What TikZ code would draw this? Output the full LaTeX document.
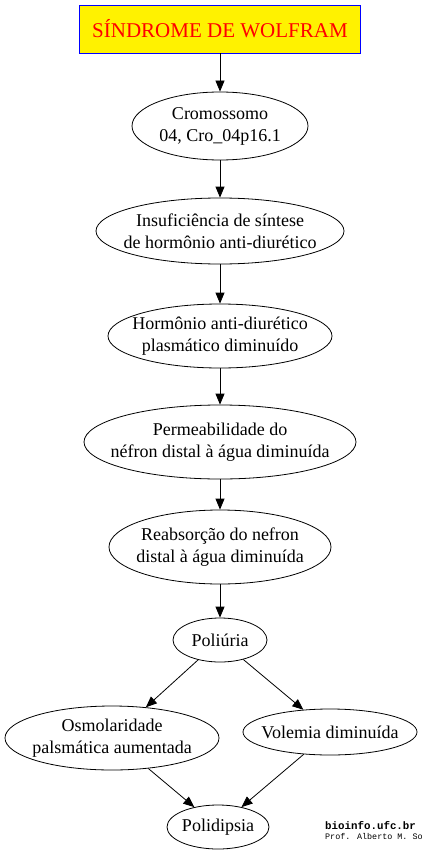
\documentclass[tikz,border=0pt]{standalone}
\usepackage{fontspec}
\setmainfont{Liberation Serif}
\newfontfamily\monofont{Liberation Mono}
\usetikzlibrary{shapes.geometric,arrows.meta}
\begin{document}
\begin{tikzpicture}[x=1pt,y=-1pt,
  ell/.style={ellipse,draw=black,line width=0.8pt,inner sep=0pt},
  txt/.style={align=center,inner sep=0pt,font=\fontsize{18}{22}\selectfont},
  arr/.style={-{Triangle[length=11pt,width=9pt]},line width=0.8pt,black},
  titlebox/.style={draw=blue,fill=yellow,line width=0.8pt,text=red,
    minimum width=281pt,minimum height=48pt,inner sep=0pt,
    font=\fontsize{21}{24}\selectfont}]
\useasboundingbox (0,0) rectangle (421,853);
\fill[white] (0,0) rectangle (421,853);

\node[titlebox] (t) at (220,29) {SÍNDROME DE WOLFRAM};

\node[ell,minimum width=176pt,minimum height=68pt,
  label={[txt]center:Cromossomo\\04, Cro\_04p16.1}] (c) at (220,126) {};
\node[ell,minimum width=248pt,minimum height=66pt,
  label={[txt]center:Insuficiência de síntese\\de hormônio anti-diurético}] (i) at (220,231) {};
\node[ell,minimum width=224pt,minimum height=64pt,
  label={[txt]center:Hormônio anti-diurético\\plasmático diminuído}] (h) at (220,336) {};
\node[ell,minimum width=272pt,minimum height=74pt,
  label={[txt]center:Permeabilidade do\\néfron distal à água diminuída}] (p) at (220,442) {};
\node[ell,minimum width=222pt,minimum height=74pt,
  label={[txt]center:Reabsorção do nefron\\distal à água diminuída}] (r) at (220,547) {};
\node[ell,minimum width=94pt,minimum height=44pt,
  label={[txt]center:Poliúria}] (pu) at (220,640) {};
\node[ell,minimum width=214pt,minimum height=64pt,
  label={[txt]center:Osmolaridade\\palsmática aumentada}] (o) at (112,738) {};
\node[ell,minimum width=174pt,minimum height=46pt,
  label={[txt]center:Volemia diminuída}] (v) at (330,732) {};
\node[ell,minimum width=102pt,minimum height=44pt,
  label={[txt]center:Polidipsia}] (pd) at (218,827) {};

\draw[arr] (t) -- (c);
\draw[arr] (c) -- (i);
\draw[arr] (i) -- (h);
\draw[arr] (h) -- (p);
\draw[arr] (p) -- (r);
\draw[arr] (r) -- (pu);
\draw[arr] (pu) -- (o);
\draw[arr] (pu) -- (v);
\draw[arr] (o) -- (pd);
\draw[arr] (v) -- (pd);

\node[anchor=base west,inner sep=0pt,font=\monofont\bfseries\fontsize{10.8}{12}\selectfont] (w) at (325,829) {bioinfo.ufc.br};
\node[anchor=base west,inner sep=0pt,font=\monofont\fontsize{8.4}{10}\selectfont] (a) at (325,839) {Prof. Alberto M. So};
\end{tikzpicture}
\end{document}
